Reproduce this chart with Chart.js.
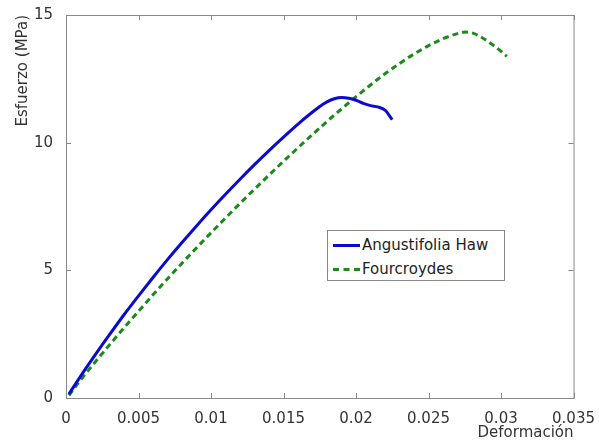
<!DOCTYPE html>
<html>
<head>
<meta charset="utf-8">
<title>Esfuerzo vs Deformación</title>
<script src="https://cdn.jsdelivr.net/npm/chart.js"></script>
<style>
  body { margin: 0; background: #fff; }
  #wrap { position: relative; width: 599px; height: 444px; }
  #legend {
    position: absolute; left: 327px; top: 230px; width: 176px; height: 49px;
    border: 1px solid #888; background: #fff;
    font: 15px "DejaVu Sans", sans-serif; color: #222;
  }
  .row { position: absolute; left: 5px; height: 20px; line-height: 20px; white-space: nowrap; }
  .row span.s { display: inline-block; width: 27px; margin-right: 2px; vertical-align: middle; }
</style>
</head>
<body>
<div id="wrap">
  <canvas id="chart" width="599" height="444"></canvas>
  <div id="legend">
    <div class="row" style="top:4px"><span class="s" style="border-top:3px solid #0a0ad0"></span>Angustifolia Haw</div>
    <div class="row" style="top:28px"><span class="s" style="border-top:3px dashed #1e8a1e"></span>Fourcroydes</div>
  </div>
</div>
<script>
// Angustifolia Haw (blue, solid)
const angX = [0.0002, 0.001, 0.002, 0.003, 0.004, 0.005, 0.006, 0.007, 0.008, 0.009, 0.010,
              0.011, 0.012, 0.013, 0.014, 0.015, 0.016, 0.017, 0.0175, 0.018, 0.0185, 0.019,
              0.0195, 0.020, 0.0205, 0.021, 0.0215, 0.022, 0.0225];
const angY = [0.15, 0.85, 1.68, 2.48, 3.26, 4.0, 4.72, 5.42, 6.09, 6.74, 7.37,
              7.98, 8.57, 9.14, 9.69, 10.22, 10.73, 11.2, 11.42, 11.6, 11.72, 11.77,
              11.74, 11.66, 11.54, 11.45, 11.4, 11.27, 10.9];

// Fourcroydes (green, dashed)
const fouX = [0.0002, 0.001, 0.002, 0.003, 0.004, 0.005, 0.006, 0.007, 0.008, 0.009, 0.010,
              0.011, 0.012, 0.013, 0.014, 0.015, 0.016, 0.017, 0.018, 0.019, 0.020,
              0.021, 0.022, 0.023, 0.024, 0.025, 0.026, 0.027, 0.0275, 0.028, 0.0285,
              0.029, 0.0295, 0.030, 0.0304];
const fouY = [0.1, 0.7, 1.4, 2.08, 2.75, 3.4, 4.04, 4.67, 5.28, 5.88, 6.47,
              7.05, 7.62, 8.18, 8.73, 9.27, 9.8, 10.32, 10.83, 11.32, 11.8,
              12.26, 12.7, 13.1, 13.47, 13.8, 14.07, 14.27, 14.33, 14.3, 14.18,
              14.0, 13.8, 13.58, 13.38];

const xTicks = [0, 0.005, 0.01, 0.015, 0.02, 0.025, 0.03, 0.035];
const yTicks = [0, 5, 10, 15];

function pts(xs, ys) { return xs.map((x, i) => ({x: x, y: ys[i]})); }

// MATLAB-like box with inward ticks on all four sides
const boxTicks = {
  id: 'boxTicks',
  afterDraw(chart) {
    const ctx = chart.ctx, a = chart.chartArea;
    const sx = chart.scales.x, sy = chart.scales.y;
    ctx.save();
    ctx.strokeStyle = '#888';
    ctx.lineWidth = 1;
    ctx.strokeRect(a.left + 0.5, a.top + 0.5, a.right - a.left, a.bottom - a.top);
    ctx.beginPath();
    xTicks.forEach(v => {
      const px = Math.round(sx.getPixelForValue(v)) + 0.5;
      ctx.moveTo(px, a.bottom); ctx.lineTo(px, a.bottom - 5);
      ctx.moveTo(px, a.top); ctx.lineTo(px, a.top + 5);
    });
    yTicks.forEach(v => {
      const py = Math.round(sy.getPixelForValue(v)) + 0.5;
      ctx.moveTo(a.left, py); ctx.lineTo(a.left + 5, py);
      ctx.moveTo(a.right, py); ctx.lineTo(a.right - 5, py);
    });
    ctx.stroke();
    ctx.restore();
  }
};

const font = {family: '"DejaVu Sans", sans-serif', size: 15};

new Chart(document.getElementById('chart'), {
  type: 'scatter',
  data: {
    datasets: [
      {label: 'Angustifolia Haw', data: pts(angX, angY), showLine: true,
       borderColor: '#0a0ad0', borderWidth: 3, pointRadius: 0, cubicInterpolationMode: 'monotone'},
      {label: 'Fourcroydes', data: pts(fouX, fouY), showLine: true,
       borderColor: '#1e8a1e', borderWidth: 3, borderDash: [6, 4], pointRadius: 0,
       cubicInterpolationMode: 'monotone'}
    ]
  },
  options: {
    responsive: false,
    animation: false,
    layout: {padding: {top: 15, right: 25, left: 0, bottom: 0}},
    plugins: {legend: {display: false}, tooltip: {enabled: false}},
    scales: {
      x: {
        type: 'linear', min: 0, max: 0.035,
        afterBuildTicks: s => { s.ticks = xTicks.map(v => ({value: v})); },
        afterFit: s => { s.height = 46; },
        grid: {display: false}, border: {display: false},
        ticks: {color: '#333', font: font, padding: 4, maxRotation: 0,
                callback: v => String(+v.toFixed(4))},
        title: {display: true, text: 'Deformación', align: 'end', color: '#333', font: font,
                padding: {top: 0, bottom: 2}}
      },
      y: {
        type: 'linear', min: 0, max: 15,
        afterBuildTicks: s => { s.ticks = yTicks.map(v => ({value: v})); },
        afterFit: s => { s.width = 66; },
        grid: {display: false}, border: {display: false},
        ticks: {color: '#333', font: font, padding: 5},
        title: {display: true, text: 'Esfuerzo (MPa)', align: 'end', color: '#333', font: font,
                padding: {top: 14, bottom: 0}}
      }
    }
  },
  plugins: [boxTicks]
});
</script>
</body>
</html>
